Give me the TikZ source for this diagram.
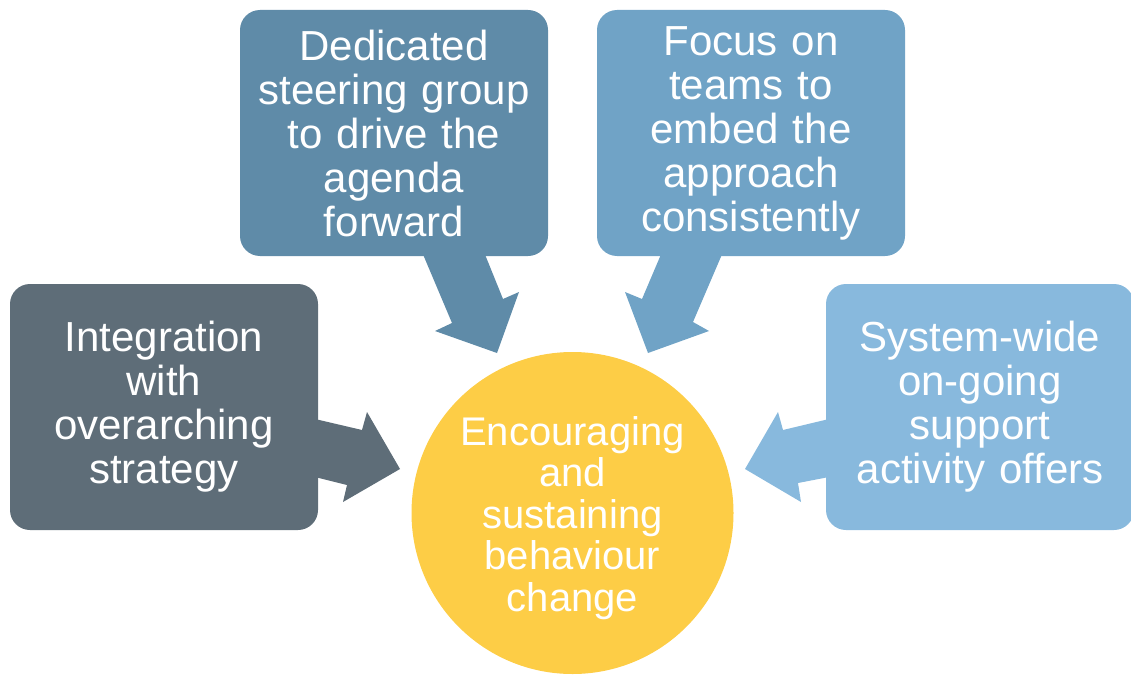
\documentclass[tikz,border=0pt]{standalone}
\usepackage{fontspec}
\setmainfont{Liberation Sans}
\definecolor{cslate}{HTML}{5E6D78}
\definecolor{csteel}{HTML}{5F8BA8}
\definecolor{cfocus}{HTML}{70A3C6}
\definecolor{csky}{HTML}{88B9DD}
\definecolor{cyel}{HTML}{FDCD46}
\begin{document}
\begin{tikzpicture}[x=1pt,y=-1pt,
  box/.style={rounded corners=20pt, minimum width=308pt, minimum height=246pt, inner sep=0pt,
    text width=300pt, align=center, text=white, font=\fontsize{42}{44}\selectfont},
  hub/.style={circle, minimum size=322pt, inner sep=0pt, fill=cyel},
  hubtext/.style={inner sep=0pt, text width=240pt, align=center, text=white,
    font=\fontsize{40}{41.5}\selectfont}]
\useasboundingbox (0,0) rectangle (1131,674);
% block arrows (drawn under boxes)
\fill[cslate] (315,419) -- (362,430) -- (367,412) -- (400,469) -- (343,502) -- (347,485) -- (315,477) -- cycle;
\fill[csteel] (422,252) -- (484,252) -- (503,299) -- (519,292) -- (497,353) -- (435,331) -- (452,323) -- cycle;
\fill[cfocus] (662,252) -- (723,252) -- (693,322) -- (709,331) -- (648,353) -- (625,292) -- (642,299) -- cycle;
\fill[csky] (829,419) -- (783,430) -- (778,412) -- (745,469) -- (801,502) -- (798,483) -- (829,477) -- cycle;
% boxes
\node[box, fill=cslate] (integ) at (164,407) {Integration\\with\\overarching\\strategy};
\node[box, fill=csteel] (steer) at (394,133) {Dedicated\\steering group\\to drive the\\agenda\\forward};
\node[box, fill=cfocus] (focus) at (751,133) {Focus on\\teams to\\embed the\\approach\\consistently};
\node[box, fill=csky] (sys) at (980,407) {System-wide\\on-going\\support\\activity offers};
% hub
\node[hub] (hub) at (572.5,513) {};
\node[hubtext] (hubtxt) at (572.5,518) {Encouraging\\and\\sustaining\\behaviour\\change};
\end{tikzpicture}
\end{document}
